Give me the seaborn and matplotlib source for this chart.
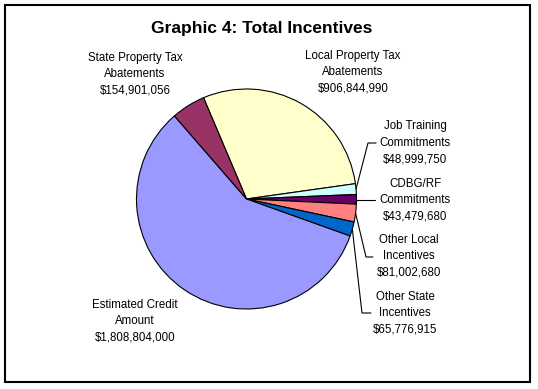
import numpy as np
import matplotlib.pyplot as plt
import seaborn as sns

sns.set_style("white")
plt.rcParams['font.family'] = ['Liberation Sans', 'DejaVu Sans']

# data, in Excel order (clockwise from the first slice)
categories = ["Local Property Tax\nAbatements", "Job Training\nCommitments",
              "CDBG/RF\nCommitments", "Other Local\nIncentives",
              "Other State\nIncentives", "Estimated Credit\nAmount",
              "State Property Tax\nAbatements"]
values = [906844990, 48999750, 43479680, 81002680, 65776915, 1808804000, 154901056]
colors = sns.color_palette(["#FFFFCC", "#CCFFFF", "#660066", "#FF8080",
                            "#0066CC", "#9999FF", "#993366"])

W, H = 538, 389
fig = plt.figure(figsize=(W / 100, H / 100), dpi=100)
ax = fig.add_axes([0, 0, 1, 1])

cx, cy, r = 246.5, 199, 110
start = 113.0
# y axis inverted -> counterclock=True in data space draws clockwise on screen
wedges, _ = ax.pie(values, colors=colors, startangle=-start, counterclock=True,
                   center=(cx, cy), radius=r, frame=True,
                   wedgeprops=dict(edgecolor='black', linewidth=0.8))
ax.set_xlim(0, W)
ax.set_ylim(H, 0)
ax.axis('off')

# label placement (center x, middle-line y) and leader elbows
labels_fmt = [f"{c}\n${v:,.0f}" for c, v in zip(categories, values)]
pos = [(353, 72), (415, 143), (415, 200), (409, 256),
       (405, 313), (135, 321), (135, 74)]
elbow = [None, (368, 143, 376), (None, 200, 375), (366, 257, 373),
         (362, 313, 371), None, None]

for w, lab, (lx, ly), el in zip(wedges, labels_fmt, pos, elbow):
    ax.text(lx, ly, lab, ha='center', va='center', fontsize=8.3,
            linespacing=1.5, color='black')
    if el is not None:
        mid = np.deg2rad((w.theta1 + w.theta2) / 2)
        px, py = cx + r * np.cos(mid), cy + r * np.sin(mid)
        ex, ey, tx = el
        if ex is None:
            ax.plot([px, tx], [ey, ey], color='black', lw=0.8)
        else:
            ax.plot([px, ex, tx], [py, ey, ey], color='black', lw=0.8)

ax.text(262, 28, "Graphic 4: Total Incentives", ha='center', va='center',
        fontsize=12.5, fontweight='bold', color='black')

border = plt.Rectangle((5, 5), 525, 377, fill=False, edgecolor='black', lw=1.5)
ax.add_patch(border)

fig.savefig("out.png", dpi=100)
